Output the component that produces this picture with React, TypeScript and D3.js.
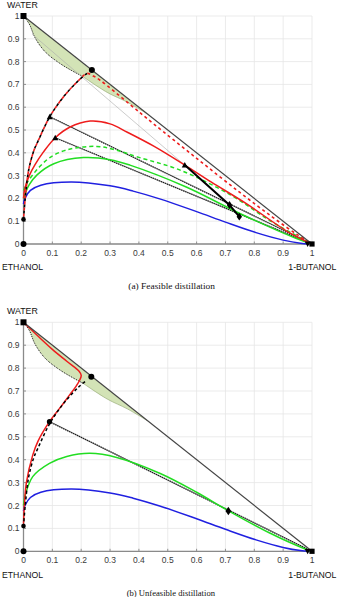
import React from 'react';
import * as d3 from 'd3';

type P = [number, number];

const TICKS = [0, 0.1, 0.2, 0.3, 0.4, 0.5, 0.6, 0.7, 0.8, 0.9, 1];
const TICK_LABELS = ['0', '0.1', '0.2', '0.3', '0.4', '0.5', '0.6', '0.7', '0.8', '0.9', '1'];

const HYP: P[] = [[0, 1], [1, 0]];
const BINODAL: P[] = [[0, 1], [0.02, 0.965], [0.04, 0.905], [0.075, 0.843], [0.125, 0.793], [0.175, 0.755], [0.205, 0.735]];
const BINODAL_TAIL: P[] = [[0.205, 0.735], [0.29, 0.665], [0.36, 0.622], [0.43, 0.57]];
const RESIDUE: P[] = [[0, 0.108], [0.006, 0.2], [0.018, 0.325], [0.036, 0.41], [0.05, 0.45], [0.091, 0.558], [0.139, 0.646], [0.19, 0.716], [0.22, 0.748]];
const A_RED_DASHED_TAIL: P[] = [[0.22, 0.748], [0.242, 0.737], [0.266, 0.718], [0.369, 0.612], [0.45, 0.528], [0.6, 0.376], [0.75, 0.226], [0.863, 0.118], [0.95, 0.04], [1, 0]];
const A_RED: P[] = [[0, 0.2], [0.005, 0.245], [0.02, 0.3], [0.04, 0.348], [0.07, 0.405], [0.11, 0.466], [0.16, 0.512], [0.231, 0.539], [0.3, 0.527], [0.36, 0.49], [0.45, 0.43], [0.559, 0.346], [0.65, 0.272], [0.771, 0.178], [0.921, 0.05], [1, 0]];
const A_GREEN_DASHED: P[] = [[0, 0.235], [0.013, 0.27], [0.036, 0.31], [0.059, 0.343], [0.09, 0.378], [0.15, 0.413], [0.254, 0.428], [0.32, 0.412], [0.4, 0.38], [0.541, 0.325], [0.714, 0.218], [0.86, 0.098], [1, 0]];
const A_GREEN: P[] = [[0, 0.2], [0.007, 0.225], [0.02, 0.26], [0.047, 0.303], [0.105, 0.352], [0.208, 0.379], [0.3, 0.37], [0.369, 0.346], [0.564, 0.25], [0.748, 0.135], [0.944, 0.025], [1, 0]];
const BLUE: P[] = [[0, 0.175], [0.005, 0.2], [0.024, 0.235], [0.06, 0.258], [0.165, 0.272], [0.3, 0.255], [0.38, 0.232], [0.472, 0.198], [0.6, 0.142], [0.7, 0.096], [0.806, 0.05], [0.9, 0.017], [0.96, 0.003], [0.99, 0]];
const A_TIE1: P[] = [[0.091, 0.558], [1, 0]];
const A_TIE2: P[] = [[0.11, 0.466], [1, 0]];
const A_THICK: P[] = [[0.559, 0.346], [0.714, 0.171], [0.748, 0.12]];
const A_THIN: P[] = [[0.03, 0.92], [0.559, 0.346]];

const B_RED: P[] = [[0, 0.12], [0.003, 0.2], [0.01, 0.3], [0.032, 0.42], [0.05, 0.48], [0.09, 0.566], [0.125, 0.624], [0.16, 0.683], [0.182, 0.72], [0.195, 0.748], [0.2, 0.768], [0.192, 0.787], [0.15, 0.83], [0.1, 0.882], [0.05, 0.94], [0, 1]];
const B_GREEN: P[] = [[0, 0.2], [0.005, 0.24], [0.032, 0.326], [0.09, 0.384], [0.15, 0.414], [0.23, 0.428], [0.323, 0.41], [0.474, 0.34], [0.6, 0.258], [0.706, 0.18], [0.85, 0.082], [0.985, 0.006], [1, 0]];
const B_TIE: P[] = [[0.09, 0.566], [1, 0]];

type M = { p: P; t: string; s: number };
const A_MARKERS: M[] = [
  { p: [0, 1], t: 'square', s: 3 },
  { p: [0.237, 0.763], t: 'circle', s: 3 },
  { p: [0, 0.108], t: 'circle', s: 2.3 },
  { p: [0, 0], t: 'circle', s: 3 },
  { p: [0.985, 0], t: 'tri-down', s: 3 },
  { p: [1, 0], t: 'square', s: 2.6 },
  { p: [0.091, 0.558], t: 'tri', s: 3 },
  { p: [0.11, 0.466], t: 'tri', s: 3 },
  { p: [0.559, 0.346], t: 'tri', s: 3 },
  { p: [0.714, 0.171], t: 'diamond', s: 3 },
  { p: [0.748, 0.12], t: 'diamond', s: 3 },
];
const B_MARKERS: M[] = [
  { p: [0, 1], t: 'square', s: 3 },
  { p: [0.235, 0.762], t: 'circle', s: 3 },
  { p: [0.09, 0.566], t: 'circle', s: 2.6 },
  { p: [0, 0.11], t: 'circle', s: 2.3 },
  { p: [0, 0], t: 'circle', s: 3 },
  { p: [0.71, 0.176], t: 'diamond', s: 3.2 },
  { p: [0.985, 0], t: 'tri-down', s: 3 },
  { p: [1, 0], t: 'square', s: 2.6 },
];

const SANS = 'Liberation Sans, Arial, sans-serif';

function Marker({ x, y, t, s }: { x: number; y: number; t: string; s: number }) {
  if (t === 'circle') return <circle cx={x} cy={y} r={s} fill="#000" />;
  if (t === 'square') return <rect x={x - s} y={y - s} width={2 * s} height={2 * s} fill="#000" />;
  if (t === 'diamond') return <path d={`M${x},${y - s * 1.3}L${x + s * 0.9},${y}L${x},${y + s * 1.3}L${x - s * 0.9},${y}Z`} fill="#000" />;
  if (t === 'tri') return <path d={`M${x},${y - s}L${x + s},${y + s * 0.8}L${x - s},${y + s * 0.8}Z`} fill="#000" />;
  return <path d={`M${x},${y + s}L${x + s},${y - s * 0.8}L${x - s},${y - s * 0.8}Z`} fill="#000" />;
}

function Panel({ y1, y0, caption, capX, kind }: { y1: number; y0: number; caption: string; capX: number; kind: 'a' | 'b' }) {
  const xs = d3.scaleLinear().domain([0, 1]).range([23.5, 312]);
  const ys = d3.scaleLinear().domain([0, 1]).range([y0, y1]);
  const lin = d3.line<P>().x(d => xs(d[0])).y(d => ys(d[1]));
  const cur = d3.line<P>().x(d => xs(d[0])).y(d => ys(d[1])).curve(d3.curveCatmullRom.alpha(0.5));
  const region = cur(BINODAL)! + cur(BINODAL_TAIL)!.replace(/^M/, 'L') + 'L' + xs(0) + ',' + ys(1) + 'Z';
  const markers = kind === 'a' ? A_MARKERS : B_MARKERS;
  return (
    <g>
      {TICKS.map((t, i) => (
        <g key={'g' + i}>
          <line x1={xs(t)} x2={xs(t)} y1={ys(0)} y2={ys(1)} stroke="#e6e6e6" strokeWidth={0.8} />
          <line x1={xs(0)} x2={xs(1)} y1={ys(t)} y2={ys(t)} stroke="#e6e6e6" strokeWidth={0.8} />
          <line x1={xs(t)} x2={xs(t)} y1={ys(0)} y2={ys(0) - 2.5} stroke="#777" strokeWidth={0.8} />
          <line x1={xs(0)} x2={xs(0) + 2.5} y1={ys(t)} y2={ys(t)} stroke="#777" strokeWidth={0.8} />
          <text x={xs(t)} y={ys(0) + 12} fontSize={8.5} fontFamily={SANS} fill="#3a3a3a" textAnchor="middle">{TICK_LABELS[i]}</text>
          <text x={19.5} y={ys(t) + 3} fontSize={8.5} fontFamily={SANS} fill="#3a3a3a" textAnchor="end">{TICK_LABELS[i]}</text>
        </g>
      ))}
      <line x1={xs(0)} x2={xs(0)} y1={ys(0)} y2={ys(1)} stroke="#8a8a8a" strokeWidth={1.3} />
      <line x1={xs(0)} x2={xs(1)} y1={ys(0)} y2={ys(0)} stroke="#8a8a8a" strokeWidth={1.3} />

      <path d={region} fill="#d3e3b6" stroke="none" />
      <path d={cur(BINODAL_TAIL)!} fill="none" stroke="#9aae7a" strokeWidth={0.7} />
      <path d={cur(BINODAL)!} fill="none" stroke="#111" strokeWidth={1} strokeDasharray="1,1" />

      <path d={cur(BLUE)!} fill="none" stroke="#2020e0" strokeWidth={1.5} />
      {kind === 'a' ? (
        <g>
          <path d={lin(A_THIN)!} fill="none" stroke="#aaa" strokeWidth={0.6} />
          <path d={lin(A_TIE1)!} fill="none" stroke="#888" strokeWidth={1.3} />
          <path d={lin(A_TIE1)!} fill="none" stroke="#111" strokeWidth={1.1} strokeDasharray="1,1.2" />
          <path d={lin(A_TIE2)!} fill="none" stroke="#888" strokeWidth={1.3} />
          <path d={lin(A_TIE2)!} fill="none" stroke="#111" strokeWidth={1.1} strokeDasharray="1,1.2" />
          <path d={cur(A_GREEN)!} fill="none" stroke="#22dd22" strokeWidth={1.5} />
          <path d={cur(A_GREEN_DASHED)!} fill="none" stroke="#22dd22" strokeWidth={1.5} strokeDasharray="4,3" />
          <path d={cur(A_RED)!} fill="none" stroke="#ee1c1c" strokeWidth={1.5} />
          <path d={cur(RESIDUE)!} fill="none" stroke="#000" strokeWidth={1.6} strokeDasharray="3,3" />
          <path d={cur(RESIDUE.concat(A_RED_DASHED_TAIL.slice(1)))!} fill="none" stroke="#ee1c1c" strokeWidth={1.6} strokeDasharray="3,3" strokeDashoffset={3} />
          <path d={lin(A_THICK)!} fill="none" stroke="#000" strokeWidth={2} />
        </g>
      ) : (
        <g>
          <path d={lin(B_TIE)!} fill="none" stroke="#888" strokeWidth={1.3} />
          <path d={lin(B_TIE)!} fill="none" stroke="#111" strokeWidth={1.1} strokeDasharray="1,1.2" />
          <path d={cur(B_GREEN)!} fill="none" stroke="#22dd22" strokeWidth={1.5} />
          <path d={cur(B_RED)!} fill="none" stroke="#ee1c1c" strokeWidth={1.5} />
          <path d={cur(RESIDUE)!} fill="none" stroke="#000" strokeWidth={1.5} strokeDasharray="3,2.5" />
        </g>
      )}
      <path d={lin(HYP)!} fill="none" stroke="#444" strokeWidth={1.2} />
      {markers.map((m, i) => (
        <Marker key={'m' + i} x={xs(m.p[0])} y={ys(m.p[1])} t={m.t} s={m.s} />
      ))}

      <text x={7} y={ys(1) - 8.3} fontSize={8.8} fontFamily={SANS} fill="#111">WATER</text>
      <text x={2} y={ys(0) + 26.3} fontSize={8.7} fontFamily={SANS} fill="#111">ETHANOL</text>
      <text x={288.3} y={ys(0) + 26.3} fontSize={8.7} fontFamily={SANS} fill="#111">1-BUTANOL</text>
      <text x={capX} y={ys(0) + 44.5} fontSize={7.2} fontFamily="Liberation Serif, Times New Roman, serif" fill="#111" textLength={215 - capX} lengthAdjust="spacingAndGlyphs">{caption}</text>
    </g>
  );
}

export default function App() {
  return (
    <svg width={337} height={597} style={{ position: 'absolute', left: 0, top: 0, background: '#fff' }}>
      <rect width={337} height={597} fill="#fff" />
      <Panel y1={16} y0={244} caption="(a) Feasible distillation" capX={128.3} kind="a" />
      <Panel y1={322.3} y0={551.3} caption="(b) Unfeasible distillation" capX={126.7} kind="b" />
    </svg>
  );
}
